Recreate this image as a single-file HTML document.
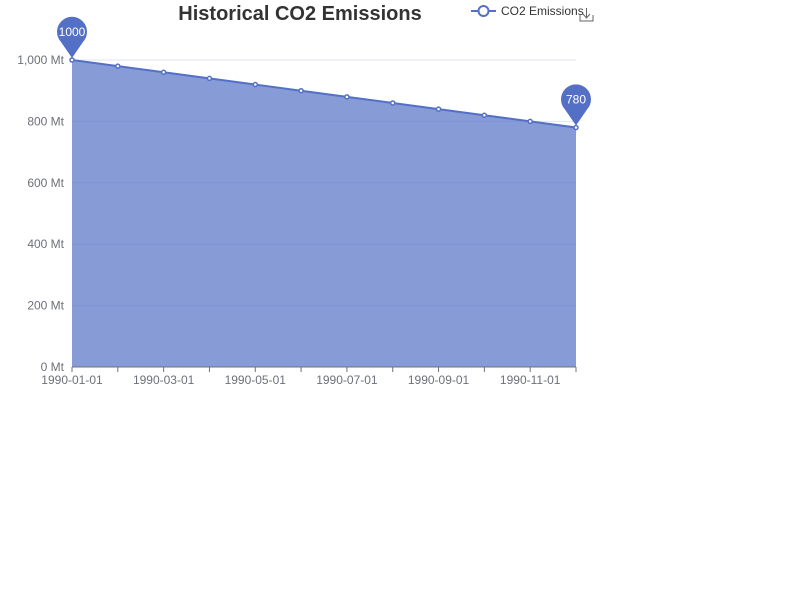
<!DOCTYPE html>
<html><head><meta charset="utf-8"><style>
body{margin:0;background:#fff;font-family:"Liberation Sans",sans-serif}
svg text{font-family:"Liberation Sans",sans-serif}
</style></head><body>
<svg id="c" width="800" height="600">
<text x="300" y="20" text-anchor="middle" font-size="20" font-weight="bold" fill="#333">Historical CO2 Emissions</text>
<g>
<line x1="471" y1="11" x2="496" y2="11" stroke="#5470c6" stroke-width="2"/>
<circle cx="483.5" cy="11" r="5" fill="#fff" stroke="#5470c6" stroke-width="2"/>
<text x="501" y="15" font-size="12" fill="#333">CO2 Emissions</text>
</g>
<g stroke="#666" fill="none" stroke-width="1">
<path d="M580 15 v6 h13 v-6 M586.5 8 v10 M583 14 l3.5 4 l3.5 -4"/>
</g>
</svg>
<script>
const categories=['1990-01-01','1990-02-01','1990-03-01','1990-04-01','1990-05-01','1990-06-01','1990-07-01','1990-08-01','1990-09-01','1990-10-01','1990-11-01','1990-12-01'];
const values=[1000,980,960,940,920,900,880,860,840,820,800,780];
const yTicks=[0,200,400,600,800,1000];
const yTickLabels=['0 Mt','200 Mt','400 Mt','600 Mt','800 Mt','1,000 Mt'];
const svg=document.getElementById('c');const NS='http://www.w3.org/2000/svg';
const X0=72,X1=576,Y0=367,Y1=60,YMAX=1000;
const x=i=>X0+i*(X1-X0)/(categories.length-1);
const y=v=>Y0-v/YMAX*(Y0-Y1);
function mk(t,a,p){const e=document.createElementNS(NS,t);for(const k in a)e.setAttribute(k,a[k]);(p||svg).appendChild(e);return e;}
yTicks.forEach((t,i)=>{
 if(t>0){const g=mk('line',{x1:X0,x2:X1,y1:y(t),y2:y(t),stroke:'#e0e6f1'});
 
 }
 const l=mk('text',{x:X0-8,y:y(t)+4,'text-anchor':'end','font-size':12,fill:'#6e7079'});l.textContent=yTickLabels[i];
 
 
});
let d='M'+x(0)+','+Y0;values.forEach((v,i)=>d+=' L'+x(i)+','+y(v));d+=' L'+x(values.length-1)+','+Y0+'Z';
const area=mk('path',{d:d,fill:'#5470c6','fill-opacity':0.7});


const ln=mk('polyline',{points:values.map((v,i)=>x(i)+','+y(v)).join(' '),fill:'none',stroke:'#5470c6','stroke-width':2});


const ax=mk('line',{x1:X0,x2:X1,y1:Y0,y2:Y0,stroke:'#6e7079'});


categories.forEach((c,i)=>{
 mk('line',{x1:x(i),x2:x(i),y1:Y0,y2:Y0+5,stroke:'#6e7079'});
 if(i%2==0){const t=mk('text',{x:x(i),y:Y0+17,'text-anchor':'middle','font-size':12,fill:'#6e7079'});t.textContent=c;
 
 }
});
values.forEach((v,i)=>{const p=mk('circle',{cx:x(i),cy:y(v),r:2,fill:'#fff',stroke:'#5470c6','stroke-width':1.5});
 
 });
function pin(i,label,name){const px=x(i),py=y(values[i]);
 const g=mk('g',{});
 
 
 mk('path',{d:`M${px},${py-2} L${px-11},${py-18} A15,15 0 1 1 ${px+11},${py-18} Z`,fill:'#5470c6'},g);
 const t=mk('text',{x:px,y:py-24,'text-anchor':'middle','font-size':12,fill:'#fff'},g);t.textContent=label;}
const mx=values.indexOf(Math.max(...values)),mn=values.indexOf(Math.min(...values));
pin(mx,String(values[mx]),'max-marker');pin(mn,String(values[mn]),'min-marker');
</script>
</body></html>
